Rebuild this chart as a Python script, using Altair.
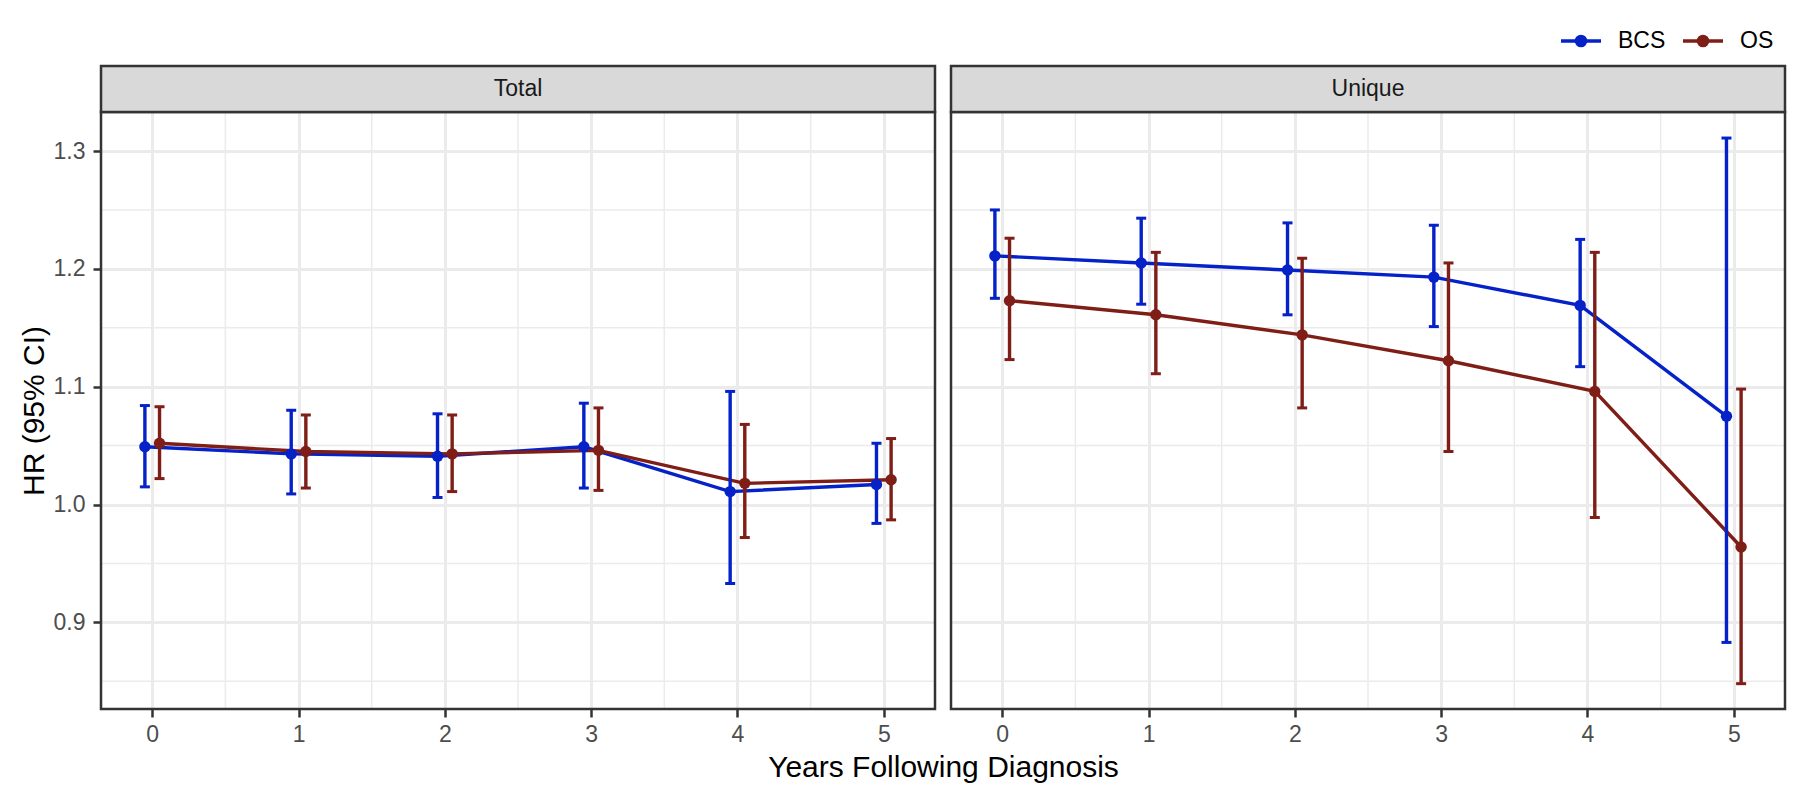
import altair as alt
import pandas as pd

# ---------------- data ----------------
years = [0, 1, 2, 3, 4, 5]
groups = ["BCS", "OS"]
panels = ["Total", "Unique"]

total_bcs_hr = [1.049, 1.043, 1.041, 1.049, 1.011, 1.017]
total_bcs_lo = [1.015, 1.009, 1.006, 1.014, 0.933, 0.984]
total_bcs_hi = [1.084, 1.080, 1.077, 1.086, 1.096, 1.052]

total_os_hr = [1.052, 1.045, 1.043, 1.046, 1.018, 1.021]
total_os_lo = [1.022, 1.014, 1.011, 1.012, 0.972, 0.987]
total_os_hi = [1.083, 1.076, 1.076, 1.082, 1.068, 1.056]

unique_bcs_hr = [1.211, 1.205, 1.199, 1.193, 1.169, 1.075]
unique_bcs_lo = [1.175, 1.170, 1.161, 1.151, 1.117, 0.883]
unique_bcs_hi = [1.250, 1.243, 1.239, 1.237, 1.225, 1.311]

unique_os_hr = [1.173, 1.161, 1.144, 1.122, 1.096, 0.964]
unique_os_lo = [1.123, 1.111, 1.082, 1.045, 0.989, 0.848]
unique_os_hi = [1.226, 1.214, 1.209, 1.205, 1.214, 1.098]

y_major = [0.9, 1.0, 1.1, 1.2, 1.3]
y_minor = [0.85, 0.95, 1.05, 1.15, 1.25]
x_minor = [0.5, 1.5, 2.5, 3.5, 4.5]

series = {
    ("Total", "BCS"): (total_bcs_hr, total_bcs_lo, total_bcs_hi),
    ("Total", "OS"): (total_os_hr, total_os_lo, total_os_hi),
    ("Unique", "BCS"): (unique_bcs_hr, unique_bcs_lo, unique_bcs_hi),
    ("Unique", "OS"): (unique_os_hr, unique_os_lo, unique_os_hi),
}
rows = []
for (panel, group), (hr, lo, hi) in series.items():
    for yr, h, l, u in zip(years, hr, lo, hi):
        rows.append(dict(panel=panel, group=group, year=yr, hr=h, lo=l, hi=u))
df = pd.DataFrame(rows)

# ---------------- style ----------------
W, H = 834, 597
STRIP = 46
FONT = "Liberation Sans"
XDOM = [-0.35, 5.35]
YDOM = [0.8265, 1.3331]
COLORS = ["#0522C8", "#7F1D17"]
GRID = "#EBEBEB"
DARK = "#333333"

xs = alt.Scale(domain=XDOM, nice=False, zero=False)
ys = alt.Scale(domain=YDOM, nice=False, zero=False)
color_scale = alt.Scale(domain=groups, range=COLORS)

LEGEND_SYMBOL = (
    "M-1,0L1,0"
    "M0.23,0A0.23,0.23,0,1,1,-0.23,0A0.23,0.23,0,1,1,0.23,0"
    "M0.1,0A0.1,0.1,0,1,1,-0.1,0A0.1,0.1,0,1,1,0.1,0"
)

legend = alt.Legend(
    orient="none", legendX=1458, legendY=-93, direction="horizontal",
    title=None, padding=0,
    symbolType=LEGEND_SYMBOL, symbolSize=1600, symbolStrokeWidth=3.4,
    symbolOpacity=1, symbolFillColor="transparent",
    labelFontSize=23, labelFont=FONT, labelColor="black",
    labelOffset=15, columnPadding=10,
)


def make_axes(first):
    xkw = dict(values=years, format="d", grid=True, gridColor=GRID, gridWidth=3,
               domain=False, tickColor=DARK, tickWidth=2.5, tickSize=8,
               labelFontSize=23, labelColor="#4D4D4D", labelFont=FONT, labelPadding=6)
    if first:
        xkw.update(title="Years Following Diagnosis", titleFontSize=30, titleFont=FONT,
                   titleColor="black", titleFontWeight="normal",
                   titleX=842, titleY=58, titleBaseline="middle")
    else:
        xkw.update(title=None)
    if first:
        yaxis = alt.Axis(values=y_major, format=".1f", grid=True, gridColor=GRID, gridWidth=3,
                         domain=False, tickColor=DARK, tickWidth=2.5, tickSize=8,
                         labelFontSize=23, labelColor="#4D4D4D", labelFont=FONT, labelPadding=8,
                         title="HR (95% CI)", titleFontSize=30, titleFont=FONT,
                         titleColor="black", titleFontWeight="normal", titlePadding=4)
    else:
        yaxis = alt.Axis(values=y_major, grid=True, gridColor=GRID, gridWidth=3,
                         domain=False, ticks=False, labels=False, title=None)
    return alt.Axis(**xkw), yaxis


def panel_chart(name, first):
    xaxis, yaxis = make_axes(first)
    d = df[df.panel == name]
    base = alt.Chart(d).transform_calculate(
        xd="datum.year + (datum.group == 'BCS' ? -0.05 : 0.05)"
    )
    X = alt.X("xd:Q", scale=xs, axis=xaxis)
    col_leg = alt.Color("group:N", scale=color_scale, legend=legend)
    col = alt.Color("group:N", scale=color_scale, legend=None)

    minor_x = alt.Chart(pd.DataFrame({"v": x_minor})).mark_rule(
        color=GRID, strokeWidth=1.5).encode(x=alt.X("v:Q", scale=xs, axis=xaxis))
    minor_y = alt.Chart(pd.DataFrame({"v": y_minor})).mark_rule(
        color=GRID, strokeWidth=1.5).encode(y=alt.Y("v:Q", scale=ys, axis=yaxis))

    lines = base.mark_line(strokeWidth=3.4).encode(
        x=X, y=alt.Y("hr:Q", scale=ys, axis=yaxis), color=col_leg)
    bars = base.mark_rule(strokeWidth=3.4).encode(
        x=X, y=alt.Y("lo:Q", scale=ys, axis=yaxis), y2="hi:Q", color=col)
    cap_lo = base.mark_tick(orient="horizontal", size=10, thickness=3, opacity=1).encode(
        x=X, y=alt.Y("lo:Q", scale=ys, axis=yaxis), color=col)
    cap_hi = base.mark_tick(orient="horizontal", size=10, thickness=3, opacity=1).encode(
        x=X, y=alt.Y("hi:Q", scale=ys, axis=yaxis), color=col)
    points = base.mark_circle(size=130, opacity=1).encode(
        x=X, y=alt.Y("hr:Q", scale=ys, axis=yaxis), color=col)

    sdf = pd.DataFrame({"panel": [name]})
    border = alt.Chart(sdf).mark_rect(fill="transparent", stroke=DARK, strokeWidth=2.5).encode(
        x=alt.value(0), x2=alt.value(W), y=alt.value(0), y2=alt.value(H))
    strip_rect = alt.Chart(sdf).mark_rect(fill="#D9D9D9", stroke=DARK, strokeWidth=2.5).encode(
        x=alt.value(0), x2=alt.value(W), y=alt.value(-STRIP), y2=alt.value(0))
    strip_text = alt.Chart(sdf).mark_text(
        fontSize=23, font=FONT, color="#1A1A1A", align="center", baseline="middle").encode(
        text="panel:N", x=alt.value(W / 2), y=alt.value(-STRIP / 2))

    return alt.layer(minor_x, minor_y, lines, bars, cap_lo, cap_hi, points,
                     border, strip_rect, strip_text).properties(width=W, height=H)


chart = alt.hconcat(
    panel_chart("Total", True), panel_chart("Unique", False),
    spacing=16, bounds="flush",
).resolve_scale(color="shared").properties(
    padding={"left": 10, "top": 11, "right": 5, "bottom": 5}
).configure_view(stroke=DARK, strokeWidth=2.5).configure(font=FONT)

chart.save("out.html", embed_options={"renderer": "svg", "actions": False})
